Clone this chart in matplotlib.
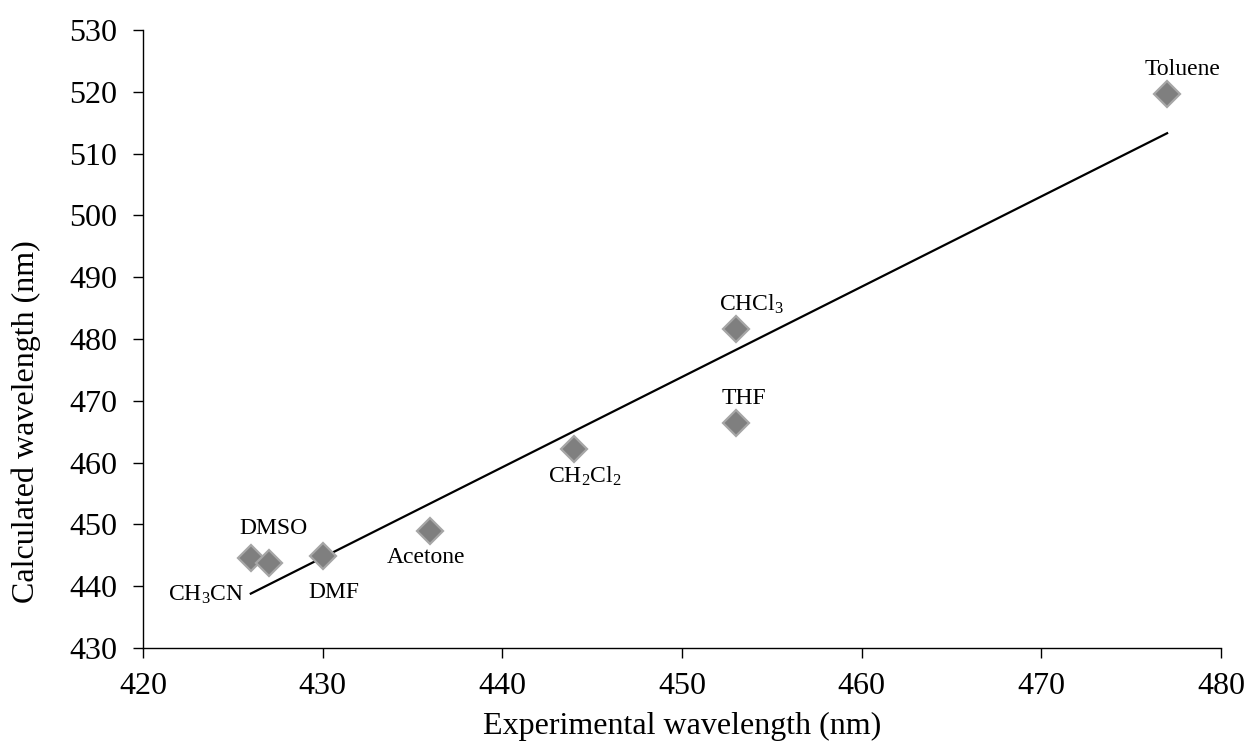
import matplotlib
matplotlib.use('Agg')
import matplotlib.pyplot as plt
import numpy as np

plt.rcParams['font.family'] = ['Liberation Serif', 'DejaVu Serif']
plt.rcParams['mathtext.fontset'] = 'custom'
plt.rcParams['mathtext.rm'] = 'Liberation Serif'
plt.rcParams['mathtext.it'] = 'Liberation Serif:italic'

# solvent data
solvents = ['DMSO', 'CH$_\\mathrm{3}$CN', 'DMF', 'Acetone', 'CH$_\\mathrm{2}$Cl$_\\mathrm{2}$',
            'CHCl$_\\mathrm{3}$', 'THF', 'Toluene']
exp_nm = [426, 427, 430, 436, 444, 453, 453, 477]
calc_nm = [444.6, 443.8, 444.9, 448.9, 462.2, 481.6, 466.4, 519.6]

# label offsets (points)
offsets = [(16, 21), (-45, -23), (8, -26), (-3, -19), (8, -20), (11, 18), (6, 18), (11, 18)]

fig = plt.figure(figsize=(12.5, 7.49), dpi=100)
ax = fig.add_axes([0.1144, 0.1348, 0.8624, 0.8252])

x = np.array(exp_nm)
y = np.array(calc_nm)
k, b = np.polyfit(x, y, 1)
xl = np.array([x.min(), x.max()])
ax.plot(xl, k * xl + b, color='black', lw=1.6, zorder=2)

ax.plot(x, y, 'D', ms=13.5, mfc='#7f7f7f', mec='#a6a6a6', mew=1.6, ls='none', zorder=3)

for name, xi, yi, off in zip(solvents, x, y, offsets):
    ax.annotate(name, (xi, yi), xytext=off, textcoords='offset points',
                ha='center', va='center', fontsize=17)

ax.set_xlim(420, 480)
ax.set_ylim(430, 530)
ax.set_xticks(np.arange(420, 481, 10))
ax.set_yticks(np.arange(430, 531, 10))
ax.spines['top'].set_visible(False)
ax.spines['right'].set_visible(False)
for s in ['left', 'bottom']:
    ax.spines[s].set_linewidth(1.0)
ax.tick_params(direction='out', length=7, width=1.0, labelsize=23)
ax.tick_params(axis='x', pad=10)
ax.tick_params(axis='y', pad=11.5)
ax.set_xlabel('Experimental wavelength (nm)', fontsize=23)
ax.set_ylabel('Calculated wavelength (nm)', fontsize=23)
ax.xaxis.set_label_coords(0.5, -0.103)
ax.yaxis.set_label_coords(-0.095, 0.367)

fig.savefig('out.png', dpi=100)
